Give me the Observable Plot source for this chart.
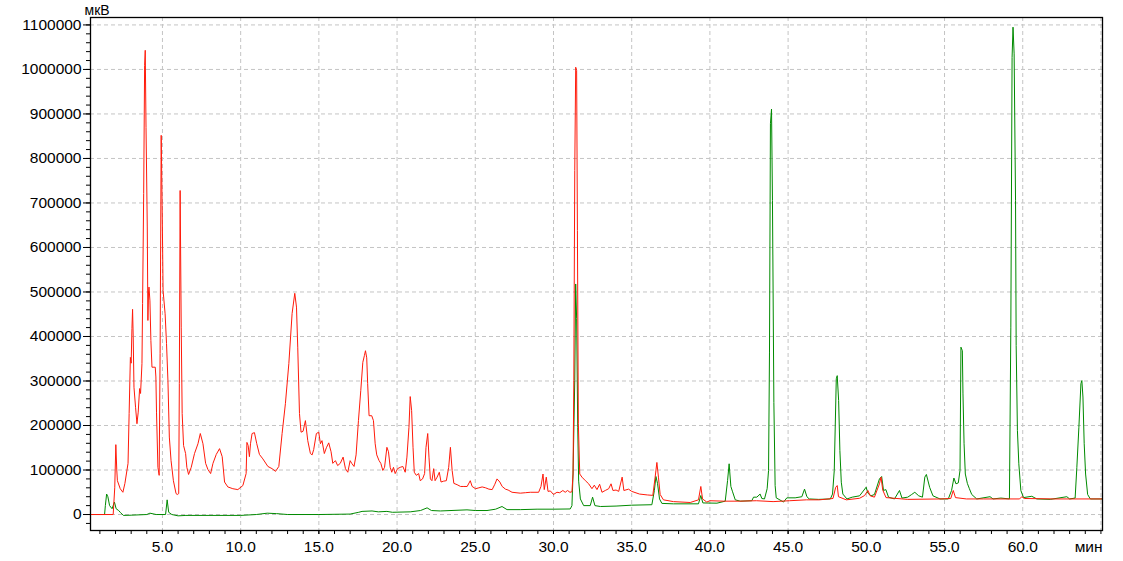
<!DOCTYPE html>
<html>
<head>
<meta charset="utf-8">
<script src="https://cdn.jsdelivr.net/npm/d3@7"></script>
<script src="https://cdn.jsdelivr.net/npm/@observablehq/plot@0.6"></script>
<style>
  html, body { margin: 0; padding: 0; background: #fff; }
  #chart { width: 1123px; height: 561px; }
</style>
</head>
<body>
<div id="chart"></div>
<script>
// ---- Data ----
// Red trace: retention time (min) and signal (µV)
const redTime = [0.4,1.85,1.95,2.02,2.08,2.12,2.3,2.47,2.6,2.8,2.87,2.95,3.0,3.05,3.09,3.13,3.18,3.28,3.37,3.45,3.54,3.6,3.69,3.73,3.8,3.86,3.9,3.95,4.03,4.07,4.11,4.14,4.2,4.26,4.33,4.54,4.58,4.62,4.71,4.79,4.85,4.92,4.98,5.04,5.17,5.26,5.35,5.44,5.55,5.7,5.87,5.95,6.04,6.08,6.13,6.2,6.26,6.35,6.48,6.56,6.67,6.84,7.05,7.27,7.42,7.59,7.76,7.91,8.08,8.23,8.44,8.65,8.82,8.97,9.18,9.5,9.82,10.14,10.35,10.4,10.48,10.56,10.63,10.73,10.88,11.03,11.2,11.42,11.74,12.01,12.23,12.44,12.65,12.86,13.08,13.29,13.46,13.57,13.65,13.76,13.86,13.99,14.14,14.29,14.46,14.57,14.67,14.84,14.99,15.1,15.2,15.35,15.48,15.63,15.78,15.89,16.06,16.2,16.37,16.55,16.7,16.85,17.0,17.1,17.25,17.38,17.53,17.68,17.81,17.91,17.98,18.06,18.12,18.21,18.38,18.49,18.6,18.7,18.85,18.96,19.09,19.2,19.35,19.45,19.56,19.66,19.77,19.88,20.03,20.2,20.37,20.52,20.63,20.76,20.84,20.93,21.02,21.1,21.23,21.38,21.48,21.63,21.76,21.85,21.96,22.04,22.13,22.23,22.34,22.43,22.56,22.7,22.81,22.98,23.15,23.3,23.41,23.52,23.63,23.84,24.06,24.27,24.48,24.68,24.8,25.02,25.23,25.44,25.66,25.87,26.08,26.25,26.39,26.57,26.72,26.93,27.1,27.35,27.88,28.2,28.52,29.05,29.2,29.33,29.41,29.54,29.65,29.8,30.0,30.22,30.4,30.6,30.75,30.9,31.05,31.18,31.25,31.3,31.36,31.42,31.48,31.53,31.59,31.68,31.82,32.04,32.25,32.46,32.61,32.78,32.95,33.1,33.31,33.53,33.68,33.8,34.0,34.17,34.39,34.5,34.8,35.0,35.5,36.0,36.35,36.5,36.61,36.71,36.82,37.03,37.67,38.74,39.27,39.42,39.53,39.8,40.0,40.87,41.9,42.98,44.04,45.1,46.17,47.0,47.87,48.04,48.14,48.22,48.72,49.57,49.89,50.1,50.25,50.52,50.84,50.94,51.05,51.26,52.65,54.78,55.4,55.56,55.7,56.4,57.5,59.8,59.94,60.1,62.0,65.1];
const redSignal = [0,0,60000,157000,100000,76000,58000,50000,70000,115000,227000,353000,340000,418000,461000,400000,286000,241000,204000,230000,283000,272000,339000,474000,721000,1009000,1043000,870000,646000,436000,500000,511000,480000,391000,331000,331000,309000,230000,106000,88000,362000,852000,694000,503000,451000,384000,301000,174000,121000,76000,47000,45000,47000,294000,728000,421000,227000,155000,137000,106000,90000,106000,137000,159000,182000,159000,115000,101000,92000,115000,135000,148000,130000,73000,62000,58000,56000,65000,92000,162000,155000,130000,159000,182000,184000,159000,135000,125000,108000,103000,97000,108000,182000,249000,339000,452000,497000,466000,376000,227000,185000,187000,211000,166000,137000,134000,146000,182000,185000,159000,166000,137000,150000,161000,141000,115000,121000,110000,115000,129000,103000,95000,121000,115000,108000,134000,211000,279000,342000,357000,368000,352000,294000,222000,222000,211000,159000,134000,121000,115000,99000,106000,151000,141000,106000,95000,106000,92000,103000,106000,108000,95000,129000,196000,265000,234000,151000,95000,88000,92000,76000,80000,92000,151000,182000,129000,80000,76000,103000,76000,84000,95000,73000,75000,76000,106000,151000,99000,70000,67000,63000,63000,63000,76000,63000,58000,60000,62000,60000,57000,56000,68000,80000,73000,63000,57000,55000,50000,48000,49000,50000,50000,63000,91000,56000,84000,52000,53000,45000,50000,49000,54000,50000,54000,50000,51000,91000,301000,773000,1005000,998000,638000,204000,91000,84000,76000,69000,58000,66000,56000,68000,50000,54000,58000,69000,54000,55000,52000,84000,54000,57000,52000,46000,44000,43000,84000,117000,84000,45000,33000,29000,27000,33000,63000,35000,28000,31000,30000,30000,31000,29000,31000,33000,33000,36000,61000,65000,40000,33000,36500,42700,54000,42000,39000,69000,84000,55000,38000,34000,35000,36000,54000,38000,35000,35000,35000,40000,36000,35000,35000];

// Green trace: retention time (min) and signal (µV)
const greenTime = [0.4,1.3,1.35,1.43,1.51,1.62,1.78,1.93,2.04,2.2,2.3,2.5,3.0,4.0,4.2,4.6,5.2,5.3,5.4,5.6,6.0,6.5,10.0,11.0,11.7,12.3,13.0,15.0,17.0,17.55,17.76,18.4,18.8,19.35,19.7,20.84,21.5,21.92,22.2,22.77,24.47,25.0,25.75,26.3,26.71,27.03,27.88,28.95,30.0,31.07,31.18,31.25,31.36,31.42,31.48,31.55,31.61,31.72,31.93,32.35,32.5,32.65,33.0,34.0,35.0,36.29,36.45,36.55,36.65,36.78,36.93,37.67,39.27,39.42,39.55,40.45,40.98,41.13,41.23,41.34,41.45,41.62,41.94,42.68,42.79,43.0,43.21,43.32,43.49,43.66,43.75,43.81,43.87,43.94,44.0,44.09,44.17,44.24,44.71,44.92,45.45,45.88,46.05,46.2,46.35,46.95,47.7,47.84,47.95,48.08,48.14,48.23,48.31,48.4,48.5,48.76,49.1,49.57,49.99,50.1,50.3,50.52,50.84,50.98,51.1,51.25,51.42,51.8,52.12,52.28,52.65,52.9,53.1,53.35,53.59,53.74,53.84,54.05,54.26,54.71,55.24,55.45,55.6,55.73,55.88,55.99,56.05,56.14,56.18,56.25,56.33,56.46,56.59,56.74,57.06,57.91,58.1,58.6,59.15,59.24,59.32,59.38,59.45,59.54,59.58,59.66,59.75,59.88,60.05,60.58,60.9,61.76,62.82,63.0,63.35,63.46,63.59,63.72,63.78,63.85,63.93,64.02,64.15,64.32,65.1];
const greenSignal = [0,0,20000,46000,40000,20000,13000,28000,13000,9000,5000,-2000,-1500,0,3000,0,0,33000,5000,0,-3000,-2000,-2000,0,3000,2000,0,0,1000,5000,7000,8000,6000,7000,5000,6000,9000,15000,9000,8000,10500,9000,9000,12000,18000,11000,11000,12000,12000,12500,20000,91000,301000,518000,440000,196000,75000,35000,20000,20000,39000,20000,18000,19000,21000,22000,54000,85400,70000,35000,25000,24000,24000,42700,26000,25500,30000,76400,114000,63000,51000,33000,30000,31000,39000,39000,46000,36000,35000,58000,99000,365000,878000,911000,705000,252000,65000,37500,28000,37500,37500,40000,57000,40000,35000,34000,35000,46000,99000,305000,312000,256000,144000,72600,46000,35000,39000,42000,61400,48000,42000,45000,80000,85400,54000,56000,39000,35000,54000,37000,39000,45000,50000,42000,39000,84000,90000,61000,42000,35000,35000,54000,82000,69000,71000,99000,376000,368000,271000,159000,91000,70000,58000,45000,35000,40000,35000,37000,35000,421000,1027000,1095000,1035000,705000,380000,189000,114000,54000,38000,41000,35000,34000,40000,35000,37000,106000,196000,294000,301000,264000,159000,91000,45000,35000,35000];

// Axis ticks
const yTicks = [0,100000,200000,300000,400000,500000,600000,700000,800000,900000,1000000,1100000];
const yMinorTicks = d3.range(-20000, 1100001, 20000);
const xTicks = [5,10,15,20,25,30,35,40,45,50,55,60];
const xGridLines = [5,10,15,20,25,30,35,40,45,50,55,60,65];
const xMinorTicks = d3.range(1, 66, 1);
const yUnit = "мкВ";
const xUnit = "мин";

const red = redTime.map((t, i) => ({t, v: redSignal[i]}));
const green = greenTime.map((t, i) => ({t, v: greenSignal[i]}));

const FONT = "'Liberation Sans Narrow', 'Arial Narrow', 'Liberation Sans', Arial, sans-serif";

const chart = Plot.plot({
  width: 1123,
  height: 561,
  marginLeft: 90,
  marginRight: 21,
  marginTop: 17,
  marginBottom: 31,
  style: {fontFamily: FONT, fontSize: "15.5px", color: "#000", background: "#fff"},
  x: {domain: [0.4, 65.1], label: null},
  y: {domain: [-35900, 1116700], label: null},
  marks: [
    Plot.gridX(xGridLines, {stroke: "#c4c4c4", strokeOpacity: 1, strokeDasharray: "4,3"}),
    Plot.gridY(yTicks, {stroke: "#c4c4c4", strokeOpacity: 1, strokeDasharray: "4,3"}),
    Plot.line(green, {x: "t", y: "v", stroke: "#008a00", strokeWidth: 1}),
    Plot.line(red, {x: "t", y: "v", stroke: "#ff1a0a", strokeWidth: 1}),
    Plot.frame({stroke: "#000", strokeWidth: 1.3}),
    Plot.axisY(yMinorTicks, {tickSize: 4, tickFormat: () => "", label: null, stroke: "#000"}),
    Plot.axisY(yTicks, {tickSize: 7, tickPadding: 2, tickFormat: d => String(d), label: null, stroke: "#000", fill: "#000"}),
    Plot.axisX(xMinorTicks, {tickSize: 4, tickFormat: () => "", label: null, stroke: "#000"}),
    Plot.axisX(xTicks, {tickSize: 4, tickPadding: 6, tickFormat: d3.format(".1f"), label: null, stroke: "#000", fill: "#000"}),
    Plot.text([yUnit], {frameAnchor: "top-left", dx: -6, dy: -12, textAnchor: "start", lineAnchor: "top", fontSize: 14, fontFamily: "'Liberation Sans', Arial, sans-serif", fill: "#000"}),
    Plot.text([xUnit], {frameAnchor: "bottom-right", dx: 0, dy: 10, textAnchor: "end", lineAnchor: "top", fill: "#000"})
  ]
});
document.getElementById("chart").appendChild(chart);
</script>
</body>
</html>
